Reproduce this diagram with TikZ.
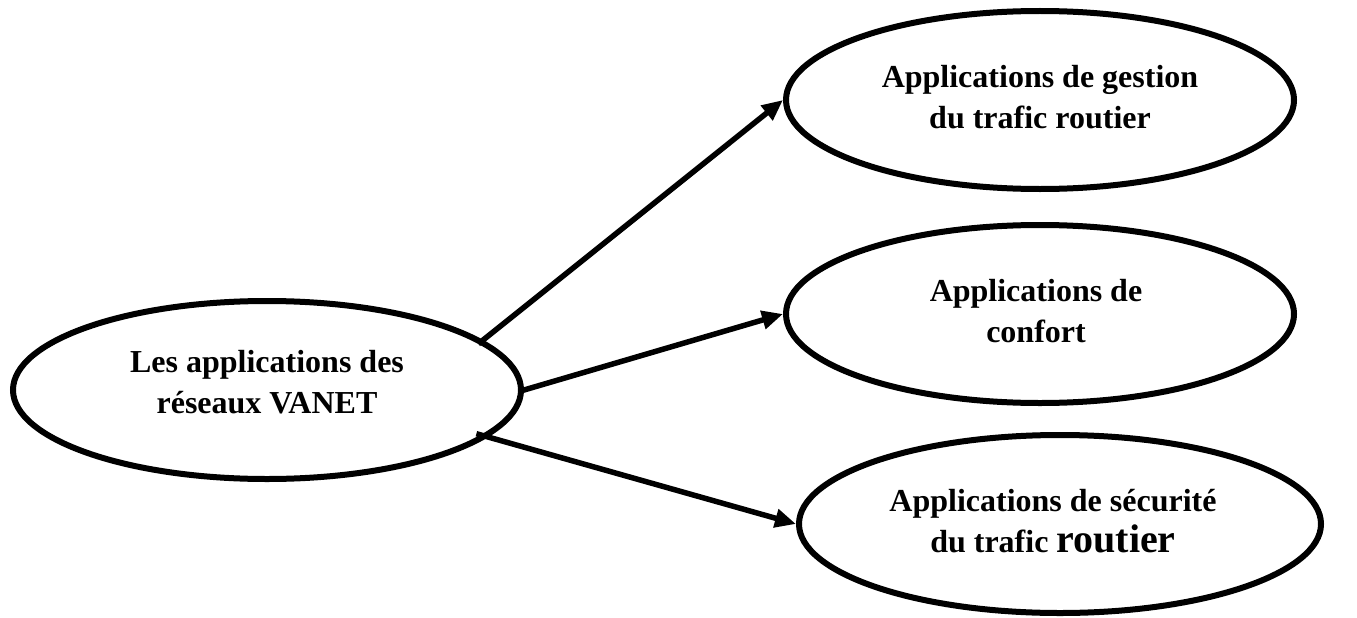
\documentclass[tikz,border=0pt]{standalone}
\usepackage{fontspec}
\setmainfont{Liberation Serif}
\usetikzlibrary{shapes.geometric,arrows.meta}
\begin{document}
\begin{tikzpicture}[x=1pt,y=-1pt,
  appbox/.style={ellipse,draw=black,line width=6pt,minimum width=508pt,minimum height=178pt,inner sep=0pt},
  apptext/.style={align=center,font=\fontsize{32}{41}\selectfont\bfseries,inner sep=0pt},
  link/.style={line width=5.5pt,-{Triangle[length=21pt,width=18pt]}}]
\useasboundingbox (0,0) rectangle (1357,618);

% source node
\node[appbox,label={[apptext,yshift=8pt]center:Les applications des\\réseaux VANET}] (src) at (267,390) {};

% the three kinds of applications
\node[appbox,label={[apptext,yshift=3pt]center:Applications de gestion\\du trafic routier}] (gestion) at (1040,100) {};
\node[appbox,label={[apptext,yshift=3pt,xshift=-4pt]center:Applications de\\confort}] (confort) at (1040,314) {};
\node[appbox,minimum width=522pt,label={[apptext,yshift=3pt,xshift=-7pt]center:Applications de sécurité\\du trafic {\fontsize{40}{41}\selectfont routier}}] (securite) at (1060,524) {};

% connectors
\draw[link,shorten <=-6pt] (src.13) -- (gestion.west);
\draw[link,shorten <=-2pt] (src.east) -- (confort.west);
\draw[link,shorten <=-12pt] (src.-12) -- (securite.west);
\end{tikzpicture}
\end{document}
